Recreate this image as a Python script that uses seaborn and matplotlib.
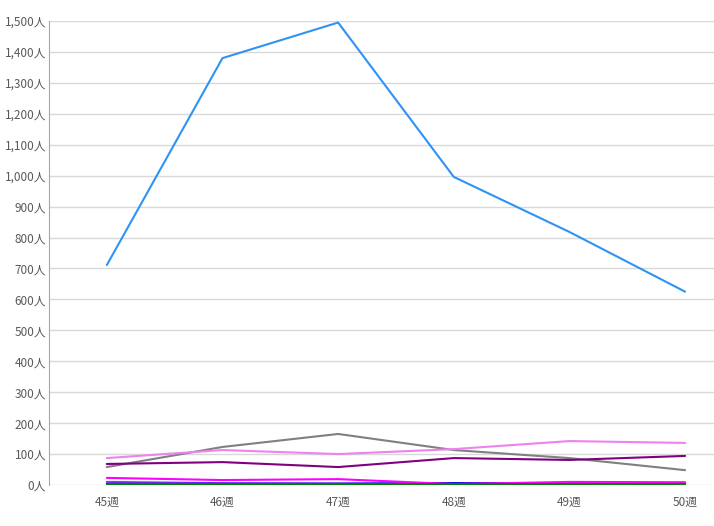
import matplotlib
matplotlib.use('Agg')
import matplotlib.pyplot as plt
import seaborn as sns
import pandas as pd
from matplotlib.ticker import FuncFormatter

# --- データ ---
weeks = ['45週', '46週', '47週', '48週', '49週', '50週']
s_blue = [711, 1380, 1495, 996, 818, 625]
s_gray = [58, 123, 165, 113, 87, 48]
s_violet = [87, 113, 100, 116, 142, 136]
s_purple = [68, 74, 58, 87, 81, 94]
s_magenta = [23, 16, 19, 3, 10, 9]
s_blueviolet = [10, 6, 5, 5, 6, 5]
s_pureblue = [4, 4, 4, 6, 5, 4]
s_green = [2, 2, 2, 2, 2, 2]

series = {
    'a': (s_blue, '#2E93F5'),
    'b': (s_gray, '#808080'),
    'c': (s_violet, '#EE82EE'),
    'd': (s_purple, '#800080'),
    'e': (s_blueviolet, '#9933FF'),
    'f': (s_pureblue, '#0000FF'),
    'g': (s_magenta, '#FF00FF'),
    'h': (s_green, '#008000'),
}

rows = []
for name, (vals, _) in series.items():
    for i, v in enumerate(vals):
        rows.append({'week': i, 'value': v, 'series': name})
df = pd.DataFrame(rows)
palette = {k: c for k, (_, c) in series.items()}

sns.set_style('white')
plt.rcParams['font.family'] = ['Noto Sans CJK JP', 'DejaVu Sans']

fig = plt.figure(figsize=(7.14, 5.26), dpi=100)
ax = fig.add_axes([49 / 714, (526 - 485) / 526, 665 / 714, 464 / 526])

sns.lineplot(data=df, x='week', y='value', hue='series', palette=palette,
             linewidth=1.5, legend=False, ax=ax)

ax.set_xlim(-0.5, 5.25)
ax.set_ylim(0, 1500)
ax.set_yticks(range(0, 1501, 100))
ax.yaxis.set_major_formatter(FuncFormatter(lambda v, p: f'{int(v):,}人'))
ax.set_xticks(range(len(weeks)))
ax.set_xticklabels(weeks)
ax.grid(axis='y', color='#D9D9D9', linewidth=1)
ax.set_axisbelow(True)
ax.set_xlabel('')
ax.set_ylabel('')
for s in ['top', 'right', 'bottom']:
    ax.spines[s].set_visible(False)
ax.spines['left'].set_color('#A6A6A6')
ax.tick_params(axis='both', length=0, labelsize=8.5, colors='#595959')
ax.tick_params(axis='y', pad=2)
ax.tick_params(axis='x', pad=8)

fig.savefig('out.png', dpi=100)
